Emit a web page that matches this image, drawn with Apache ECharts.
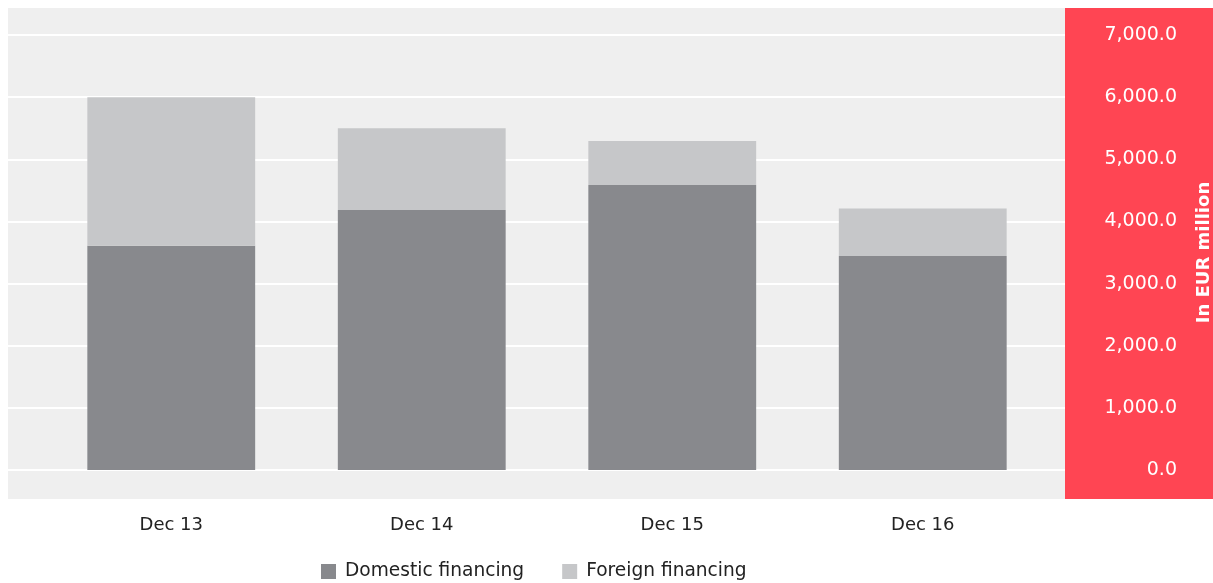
<!DOCTYPE html>
<html>
<head>
<meta charset="utf-8">
<script src="https://cdn.jsdelivr.net/npm/echarts@6/dist/echarts.min.js"></script>
<style>
  html, body { margin: 0; padding: 0; background: #fff; }
  #chart { width: 1213px; height: 583px; }
</style>
</head>
<body>
<div id="chart"></div>
<script>
  const categories = ['Dec 13', 'Dec 14', 'Dec 15', 'Dec 16'];
  const domestic = [3610, 4185, 4585, 3445];
  const foreign = [2390, 1315, 710, 765];
  const seriesNames = ['Domestic financing', 'Foreign financing'];
  const yMax = 7000;
  const yStep = 1000;

  const FONT = '"DejaVu Sans", Verdana, sans-serif';

  const chart = echarts.init(document.getElementById('chart'));
  chart.setOption({
    animation: false,
    textStyle: { fontFamily: FONT },
    graphic: [
      { type: 'rect', z: -10, shape: { x: 8, y: 8, width: 1057, height: 491 }, style: { fill: '#efefef' }, silent: true },
      { type: 'rect', z: -10, shape: { x: 1065, y: 8, width: 148, height: 491 }, style: { fill: '#ff4553' }, silent: true }
    ],
    legend: {
      data: seriesNames,
      top: 557,
      left: 316,
      itemWidth: 15,
      itemHeight: 15,
      itemGap: 38,
      icon: 'rect',
      textStyle: { fontFamily: FONT, fontSize: 18.6, color: '#222', padding: [0, 0, 0, 4] }
    },
    grid: [
      // full-width grid only for the white gridlines
      { left: 8, right: 148, top: 35, bottom: 113, outerBoundsMode: 'none' },
      // grid for the bars
      { left: 46, right: 165, top: 35, bottom: 113, outerBoundsMode: 'none' }
    ],
    xAxis: [
      { type: 'value', gridIndex: 0, show: false },
      {
        type: 'category',
        gridIndex: 1,
        data: categories,
        axisLine: { show: false },
        axisTick: { show: false },
        axisLabel: { color: '#222', fontSize: 18, margin: 46, fontFamily: FONT }
      }
    ],
    yAxis: [
      {
        type: 'value',
        gridIndex: 0,
        min: 0,
        max: yMax,
        interval: yStep,
        axisLine: { show: false },
        axisTick: { show: false },
        axisLabel: { show: false },
        splitLine: { lineStyle: { color: '#fff', width: 2 } }
      },
      {
        type: 'value',
        gridIndex: 1,
        position: 'right',
        min: 0,
        max: yMax,
        interval: yStep,
        name: 'In EUR million',
        nameLocation: 'middle',
        nameRotate: 90,
        nameGap: 147,
        nameTextStyle: { color: '#fff', fontSize: 18, fontWeight: 'bold', fontFamily: FONT, padding: [0, 0, 6, 0] },
        axisLine: { show: false },
        axisTick: { show: false },
        splitLine: { show: false },
        axisLabel: {
          color: '#fff',
          fontSize: 19,
          align: 'right',
          margin: 129,
          fontFamily: FONT,
          formatter: v => v.toLocaleString('en-US', { minimumFractionDigits: 1, maximumFractionDigits: 1 })
        }
      }
    ],
    series: [
      {
        name: seriesNames[0],
        type: 'bar',
        stack: 'total',
        xAxisIndex: 1,
        yAxisIndex: 1,
        data: domestic,
        barWidth: '67%',
        itemStyle: { color: '#88898d' }
      },
      {
        name: seriesNames[1],
        type: 'bar',
        stack: 'total',
        xAxisIndex: 1,
        yAxisIndex: 1,
        data: foreign,
        barWidth: '67%',
        itemStyle: { color: '#c6c7c9' }
      }
    ]
  });
</script>
</body>
</html>
